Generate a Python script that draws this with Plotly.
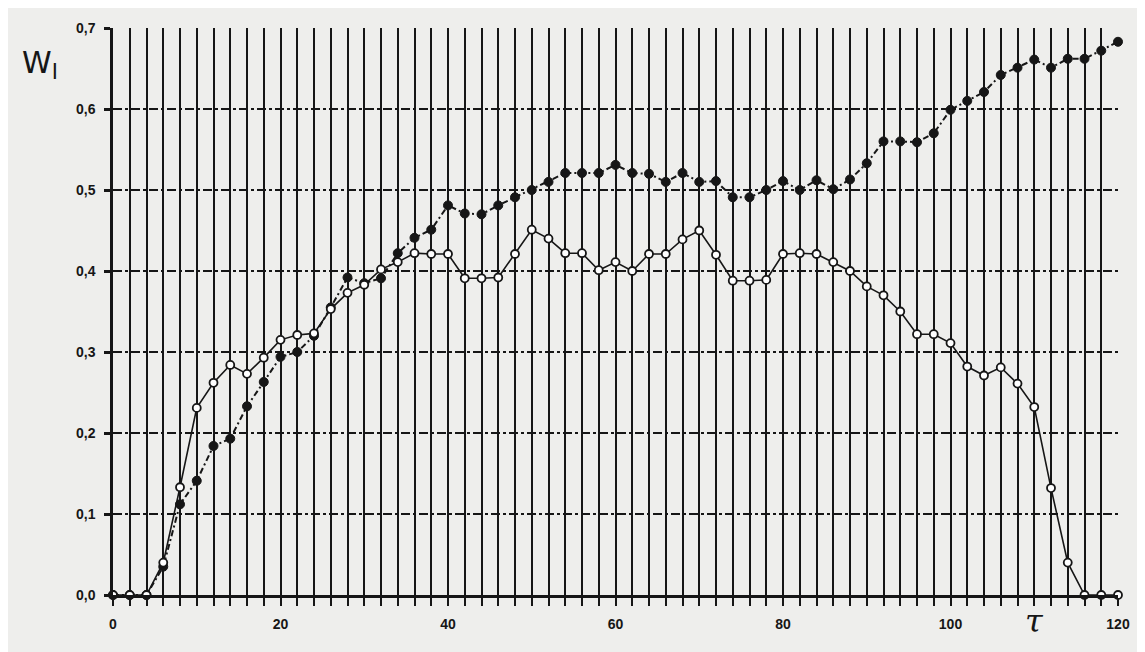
import plotly.graph_objects as go

tau = list(range(0, 121, 2))

w_open = [0, 0, 0, 0.040, 0.133, 0.231, 0.262, 0.284, 0.273, 0.293,
          0.315, 0.321, 0.323, 0.353, 0.373, 0.383, 0.402, 0.411, 0.422, 0.421,
          0.421, 0.391, 0.391, 0.392, 0.421, 0.451, 0.440, 0.422, 0.422, 0.401,
          0.411, 0.400, 0.421, 0.421, 0.439, 0.450, 0.420, 0.388, 0.388, 0.389,
          0.421, 0.422, 0.421, 0.411, 0.400, 0.381, 0.370, 0.350, 0.322, 0.322,
          0.311, 0.282, 0.271, 0.281, 0.261, 0.232, 0.132, 0.040, 0, 0,
          0]

w_filled = [0, 0, 0, 0.035, 0.112, 0.141, 0.184, 0.193, 0.233, 0.263,
            0.294, 0.300, 0.320, 0.355, 0.392, 0.385, 0.391, 0.422, 0.441, 0.451,
            0.481, 0.471, 0.470, 0.481, 0.491, 0.500, 0.510, 0.521, 0.521, 0.521,
            0.531, 0.521, 0.520, 0.510, 0.521, 0.510, 0.511, 0.491, 0.491, 0.500,
            0.511, 0.500, 0.512, 0.501, 0.513, 0.533, 0.560, 0.560, 0.559, 0.570,
            0.599, 0.610, 0.621, 0.642, 0.651, 0.661, 0.651, 0.662, 0.662, 0.672,
            0.683]

x_ticks = [0, 20, 40, 60, 80, 100, 120]
x_labels = ["0", "20", "40", "60", "80", "100", "120"]
y_ticks = [0.0, 0.1, 0.2, 0.3, 0.4, 0.5, 0.6, 0.7]
y_labels = ["0,0", "0,1", "0,2", "0,3", "0,4", "0,5", "0,6", "0,7"]

ink = "#161616"
paper = "#eeeeec"

fig = go.Figure()

fig.add_trace(go.Scatter(
    x=tau, y=w_filled, mode="lines+markers",
    line=dict(color=ink, width=2, dash="6px,3px,2px,3px"),
    marker=dict(symbol="circle", size=9, color=ink, line=dict(color=ink, width=1)),
    cliponaxis=False, showlegend=False))

fig.add_trace(go.Scatter(
    x=tau, y=w_open, mode="lines+markers",
    line=dict(color=ink, width=1.6),
    marker=dict(symbol="circle", size=8, color="white", line=dict(color=ink, width=1.8)),
    cliponaxis=False, showlegend=False))

fig.update_layout(
    width=1137, height=644,
    margin=dict(l=105, r=27, t=14, b=57),
    paper_bgcolor=paper, plot_bgcolor=paper,
    font=dict(family="Liberation Sans, Arial, sans-serif", color=ink),
    xaxis=dict(
        range=[0, 120], tickvals=x_ticks, ticktext=x_labels,
        tickfont=dict(size=14, family="Liberation Sans, Arial, sans-serif", weight="bold"),
        ticks="outside", ticklen=8, tickwidth=2, tickcolor=ink,
        ticklabelstandoff=6,
        showline=True, linecolor=ink, linewidth=2.5,
        showgrid=True, gridcolor=ink, gridwidth=2,
        minor=dict(dtick=2, showgrid=True, gridcolor=ink, gridwidth=2,
                   ticks="outside", ticklen=8, tickwidth=2, tickcolor=ink),
        zeroline=False,
    ),
    yaxis=dict(
        range=[0, 0.7], tickvals=y_ticks, ticktext=y_labels,
        tickfont=dict(size=14, family="Liberation Sans, Arial, sans-serif", weight="bold"),
        ticks="outside", ticklen=6, tickwidth=2.5, tickcolor=ink,
        ticklabelstandoff=6,
        showline=True, linecolor=ink, linewidth=2.5,
        showgrid=True, gridcolor=ink, gridwidth=2, griddash="dashdot",
        zeroline=False,
    ),
    annotations=[
        dict(text="W<sub>I</sub>", xref="paper", yref="paper",
             x=-0.073, y=0.935, xanchor="center", yanchor="middle", showarrow=False,
             font=dict(size=30, family="DejaVu Sans, sans-serif", color=ink)),
        dict(text="<i>τ</i>", xref="paper", yref="paper",
             x=0.917, y=-0.045, xanchor="center", yanchor="middle", showarrow=False,
             font=dict(size=32, family="DejaVu Serif, serif", color=ink)),
    ],
)

fig.write_html("out.html")
